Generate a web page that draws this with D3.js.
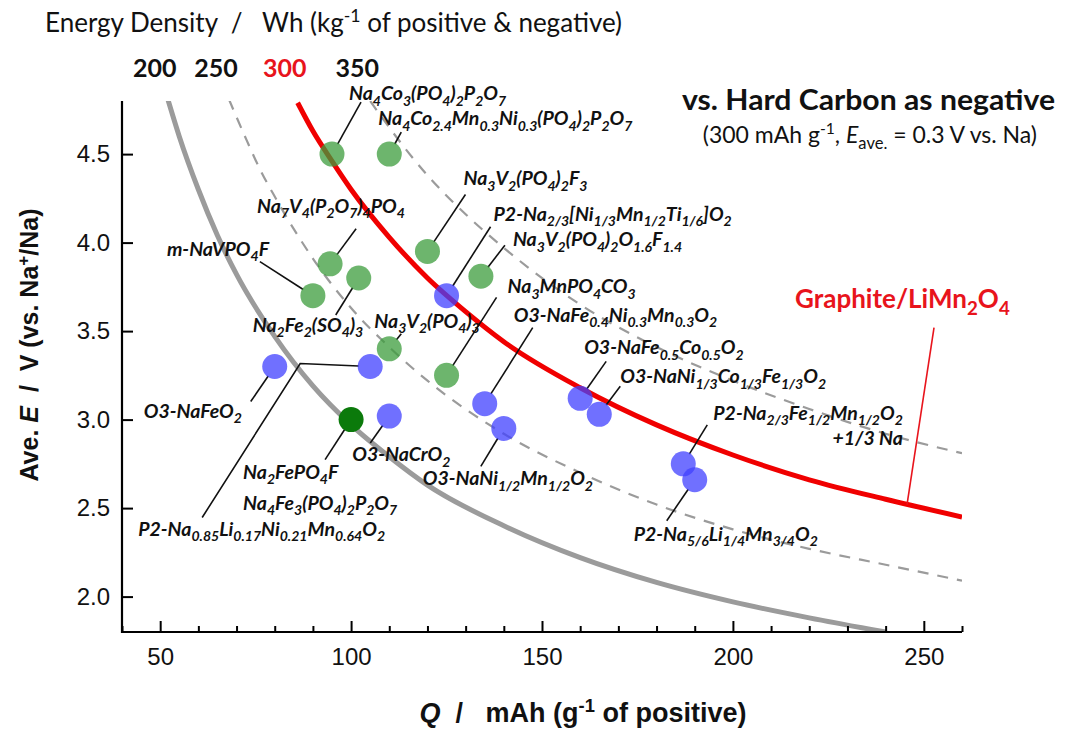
<!DOCTYPE html>
<html>
<head>
<meta charset="utf-8">
<script src="https://cdn.jsdelivr.net/npm/d3@7"></script>
<style>
  body { margin: 0; background: #fff; }
  svg { display: block; }
</style>
</head>
<body>
<svg id="chart" width="1067" height="733"></svg>
<script>
// energy density levels shown above the plot (Wh per kg of positive + negative)
const energyLevels = [200, 250, 300, 350];

// iso-energy curves, [Q, E]
const curve200 = [[52, 4.81], [55, 4.60], [60, 4.30], [65, 4.04], [70, 3.82], [80, 3.47], [90, 3.19], [100, 2.97],
  [110, 2.79], [120, 2.63], [140, 2.40], [160, 2.22], [180, 2.08], [200, 1.97], [220, 1.88], [240, 1.80]];
const curve250 = [[68, 4.81], [72, 4.61], [76, 4.42], [80, 4.26], [90, 3.91], [100, 3.63], [110, 3.41], [120, 3.22],
  [140, 2.92], [160, 2.70], [180, 2.52], [200, 2.38], [220, 2.27], [240, 2.18], [260, 2.09]];
const curve300 = [[86, 4.79], [90, 4.63], [95, 4.46], [100, 4.30], [110, 4.03], [120, 3.80], [130, 3.61], [140, 3.44],
  [160, 3.18], [180, 2.97], [200, 2.80], [220, 2.66], [240, 2.55], [260, 2.45]];
const curve350 = [[105, 4.80], [110, 4.65], [120, 4.38], [130, 4.16], [140, 3.97], [160, 3.65], [180, 3.41],
  [200, 3.22], [220, 3.06], [240, 2.92], [260, 2.81]];

// materials: name (with _{sub} markup), capacity Q (mAh/g), average voltage E (V), group
const materials = [
  "Na_{4}Co_{3}(PO_{4})_{2}P_{2}O_{7}",
  "Na_{4}Co_{2.4}Mn_{0.3}Ni_{0.3}(PO_{4})_{2}P_{2}O_{7}",
  "Na_{3}V_{2}(PO_{4})_{2}F_{3}",
  "Na_{3}V_{2}(PO_{4})_{2}O_{1.6}F_{1.4}",
  "Na_{7}V_{4}(P_{2}O_{7})_{4}PO_{4}",
  "m-NaVPO_{4}F",
  "Na_{2}Fe_{2}(SO_{4})_{3}",
  "Na_{3}V_{2}(PO_{4})_{3}",
  "Na_{3}MnPO_{4}CO_{3}",
  "Na_{2}FePO_{4}F|Na_{4}Fe_{3}(PO_{4})_{2}P_{2}O_{7}",
  "O3-NaFeO_{2}",
  "P2-Na_{0.85}Li_{0.17}Ni_{0.21}Mn_{0.64}O_{2}",
  "O3-NaCrO_{2}",
  "P2-Na_{2/3}[Ni_{1/3}Mn_{1/2}Ti_{1/6}]O_{2}",
  "O3-NaFe_{0.4}Ni_{0.3}Mn_{0.3}O_{2}",
  "O3-NaNi_{1/2}Mn_{1/2}O_{2}",
  "O3-NaFe_{0.5}Co_{0.5}O_{2}",
  "O3-NaNi_{1/3}Co_{1/3}Fe_{1/3}O_{2}",
  "P2-Na_{2/3}Fe_{1/2}Mn_{1/2}O_{2}|+1/3 Na",
  "P2-Na_{5/6}Li_{1/4}Mn_{3/4}O_{2}"
];
const capacity = [95, 110, 120, 134, 94.5, 90, 102, 110, 125, 100, 80, 105, 110, 125, 135, 140, 160, 165, 187, 190];
const voltage = [4.50, 4.50, 3.95, 3.81, 3.88, 3.70, 3.80, 3.40, 3.25, 3.00, 3.30, 3.30, 3.02, 3.70, 3.09, 2.95, 3.12, 3.03, 2.75, 2.66];
const group = ["poly", "poly", "poly", "poly", "poly", "poly", "poly", "poly", "poly", "fluoro",
  "oxide", "oxide", "oxide", "oxide", "oxide", "oxide", "oxide", "oxide", "oxide", "oxide"];

// where the red reference label points on its curve
const graphiteName = "Graphite/LiMn_{2}O_{4}";
const graphitePoint = [245.6, 2.52];

// label placement relative to each point, in px
const labelLayout = [
  { dx: 17, dy: -54, leader: [[29, -52]] },
  { dx: -11, dy: -29, leader: [[12, -22]] },
  { dx: 36, dy: -66, leader: [[38, -57]] },
  { dx: 32, dy: -30, leader: [[24, -31]] },
  { dx: -73, dy: -51, leader: [[26, -35]] },
  { dx: -146, dy: -40, leader: [[-53, -34]] },
  { dx: -106, dy: 54, leader: [[-23, 37]] },
  { dx: -15, dy: -21, leader: [[12, -15]] },
  { dx: 61, dy: -82, leader: [[50, -78]] },
  { dx: -108, dy: 59, leader: [[-26, 40]], gap: 31 },
  { dx: -131, dy: 51, leader: [[-24, 35]] },
  { dx: -232, dy: 169, leader: [[-70, -3], [-168, 151]] },
  { dx: -37, dy: 45, leader: [[-19, 27]] },
  { dx: 47, dy: -75, leader: [[44, -69]] },
  { dx: 29, dy: -82, leader: [[48, -76]] },
  { dx: -81, dy: 57, leader: [[-23, 38]] },
  { dx: 4, dy: -44, leader: [[26, -37]] },
  { dx: 21, dy: -31, leader: [[21, -28]] },
  { dx: 30, dy: -44, leader: [[24, -39]], gap: 25, alignEnd: true },
  { dx: -61, dy: 61, leader: [[-28, 41]] }
];

const colors = { poly: "#3c9c3c", oxide: "#4040ff", fluoro: "#0b7a0b" };
const opac = { poly: 0.75, oxide: 0.75, fluoro: 1 };

const svg = d3.select("#chart");
const x = d3.scaleLinear().domain([40, 260]).range([122, 962]);
const y = d3.scaleLinear().domain([1.8, 4.8]).range([632, 101]);

const labelFont = "Lato, 'Open Sans', sans-serif";
const axisFont = "'Liberation Sans', Arial, sans-serif";

// text with _{sub}, ^{sup}, *{italic} markup
function richText(sel, str, size) {
  const parts = str.split(/(_\{[^}]*\}|\^\{[^}]*\}|\*\{[^}]*\})/).filter(s => s.length);
  let shift = 0;
  parts.forEach(p => {
    let target = 0, txt = p, fs = size, italic = false;
    if (p.startsWith("_{")) { target = size * 0.28; txt = p.slice(2, -1); fs = size * 0.72; }
    else if (p.startsWith("^{")) { target = -size * 0.38; txt = p.slice(2, -1); fs = size * 0.68; }
    else if (p.startsWith("*{")) { txt = p.slice(2, -1); italic = true; }
    const t = sel.append("tspan").attr("dy", target - shift).attr("font-size", fs).text(txt);
    if (italic) t.attr("font-style", "italic");
    shift = target;
  });
}

// clip for the curves
svg.append("clipPath").attr("id", "plotClip")
  .append("rect").attr("x", x(40)).attr("y", y(4.8)).attr("width", x(260) - x(40)).attr("height", y(1.8) - y(4.8));

const line = d3.line().x(d => x(d[0])).y(d => y(d[1])).curve(d3.curveMonotoneX);
const curves = svg.append("g").attr("clip-path", "url(#plotClip)");
curves.append("path").datum(curve200).attr("d", line)
  .attr("fill", "none").attr("stroke", "#9b9b9b").attr("stroke-width", 5);
curves.append("path").datum(curve250).attr("d", line)
  .attr("fill", "none").attr("stroke", "#9b9b9b").attr("stroke-width", 2.2).attr("stroke-dasharray", "11,9");
curves.append("path").datum(curve350).attr("d", line)
  .attr("fill", "none").attr("stroke", "#9b9b9b").attr("stroke-width", 2.2).attr("stroke-dasharray", "11,9");
curves.append("path").datum(curve300).attr("d", line)
  .attr("fill", "none").attr("stroke", "#f00000").attr("stroke-width", 5);

// axes
const gx = svg.append("g").attr("transform", "translate(0," + y(1.8) + ")")
  .call(d3.axisBottom(x).tickValues([50, 100, 150, 200, 250]).tickSizeInner(-11).tickSizeOuter(0).tickPadding(16));
const gxMinor = svg.append("g").attr("transform", "translate(0," + y(1.8) + ")")
  .call(d3.axisBottom(x).tickValues(d3.range(40, 261, 10).filter(v => v % 50 !== 0)).tickSize(-6).tickFormat(""));
const gy = svg.append("g").attr("transform", "translate(" + x(40) + ",0)")
  .call(d3.axisLeft(y).tickValues([2, 2.5, 3, 3.5, 4, 4.5]).tickFormat(d3.format(".1f"))
    .tickSizeInner(-11).tickSizeOuter(0).tickPadding(12));
[gx, gxMinor, gy].forEach(g => {
  g.select(".domain").remove();
  g.selectAll("line").attr("stroke", "#000").attr("stroke-width", 2);
  g.selectAll("text").attr("font-family", axisFont).attr("font-size", 24).attr("fill", "#111");
});
svg.append("path")
  .attr("d", "M" + x(40) + "," + y(4.8) + "V" + y(1.8) + "H" + x(260))
  .attr("fill", "none").attr("stroke", "#000").attr("stroke-width", 2.2);

// axis titles
const xt = svg.append("text").attr("x", 583).attr("y", 722).attr("text-anchor", "middle")
  .attr("font-family", axisFont).attr("font-weight", "bold").attr("fill", "#111");
richText(xt, "*{Q}\u00a0\u00a0/\u00a0\u00a0 mAh (g^{-1} of positive)", 27);

const yt = svg.append("text").attr("transform", "translate(38,345) rotate(-90)").attr("text-anchor", "middle")
  .attr("font-family", axisFont).attr("font-weight", "bold").attr("fill", "#111");
richText(yt, "Ave. *{E}\u00a0\u00a0/\u00a0\u00a0V (vs. Na^{+}/Na)", 25);

// header
const ht = svg.append("text").attr("x", 45).attr("y", 32).attr("font-family", labelFont).attr("fill", "#111");
richText(ht, "Energy Density\u00a0\u00a0/\u00a0\u00a0 Wh (kg^{-1} of positive & negative)", 26);

const topCurves = [curve200, curve250, curve300, curve350];
svg.append("g").selectAll("text").data(energyLevels).join("text")
  .attr("x", (d, i) => x(topCurves[i][0][0]) - 13)
  .attr("y", 77)
  .attr("text-anchor", "middle")
  .attr("font-family", labelFont).attr("font-weight", "bold").attr("font-size", 25)
  .attr("fill", d => d === 300 ? "#e8141c" : "#111")
  .text(d => d);

svg.append("text").attr("x", 1055).attr("y", 110).attr("text-anchor", "end")
  .attr("font-family", labelFont).attr("font-weight", "bold").attr("font-size", 28).attr("fill", "#111")
  .attr("textLength", 373).attr("lengthAdjust", "spacingAndGlyphs")
  .text("vs. Hard Carbon as negative");
const st = svg.append("text").attr("x", 1037).attr("y", 143).attr("text-anchor", "end")
  .attr("font-family", labelFont).attr("fill", "#111");
richText(st, "(300 mAh g^{-1}, *{E}_{ave.} = 0.3 V vs. Na)", 23);

// leader lines
const r = 12.5;
const pts = materials.map((m, i) => ({ name: m, px: x(capacity[i]), py: y(voltage[i]), g: group[i], lay: labelLayout[i] }));
const leaders = svg.append("g");
pts.forEach(p => {
  const first = p.lay.leader[0];
  const len = Math.hypot(first[0], first[1]);
  const start = [first[0] / len * (r - 1), first[1] / len * (r - 1)];
  const path = [start].concat(p.lay.leader).map(o => [p.px + o[0], p.py + o[1]]);
  leaders.append("path").attr("d", d3.line()(path))
    .attr("fill", "none").attr("stroke", "#111").attr("stroke-width", 1.6);
});

// red curve label
const gpx = x(graphitePoint[0]), gpy = y(graphitePoint[1]);
svg.append("line").attr("x1", gpx).attr("y1", gpy).attr("x2", gpx + 27).attr("y2", gpy - 177)
  .attr("stroke", "#e8141c").attr("stroke-width", 1.6);
const gt = svg.append("text").attr("x", gpx - 112).attr("y", gpy - 197)
  .attr("font-family", labelFont).attr("font-weight", "bold").attr("fill", "#e8141c");
richText(gt, graphiteName, 26);

// points
svg.append("g").selectAll("circle").data(pts).join("circle")
  .attr("cx", d => d.px).attr("cy", d => d.py).attr("r", r)
  .attr("fill", d => colors[d.g]).attr("fill-opacity", d => opac[d.g]);

// material labels
const labels = svg.append("g").attr("font-family", labelFont).attr("font-weight", "bold")
  .attr("font-style", "italic").attr("fill", "#111");
pts.forEach(p => {
  const lines = p.name.split("|");
  let firstWidth = 0;
  lines.forEach((ln, k) => {
    const t = labels.append("text").attr("x", p.px + p.lay.dx).attr("y", p.py + p.lay.dy + k * (p.lay.gap || 0));
    richText(t, ln, 19.5);
    if (k === 0) firstWidth = t.node().getComputedTextLength();
    else if (p.lay.alignEnd) t.attr("x", p.px + p.lay.dx + firstWidth).attr("text-anchor", "end");
  });
});
</script>
</body>
</html>
